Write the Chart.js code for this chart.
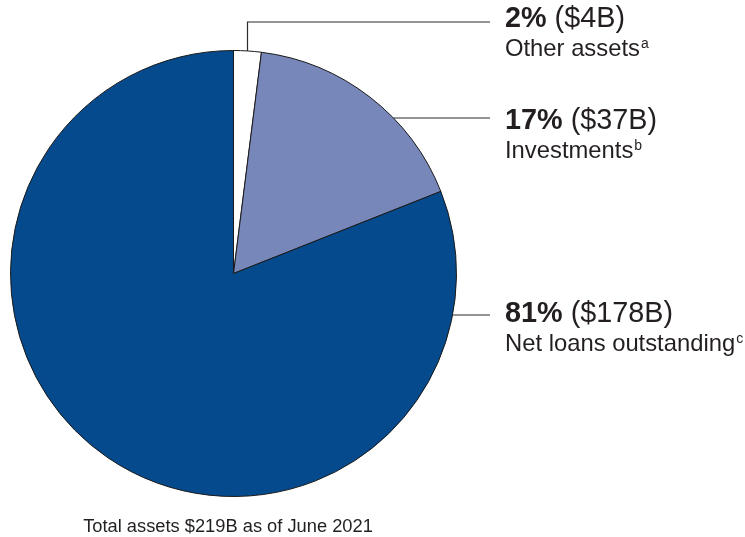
<!DOCTYPE html>
<html>
<head>
<meta charset="utf-8">
<script src="https://cdn.jsdelivr.net/npm/chart.js@4/dist/chart.umd.min.js"></script>
<style>
  body { margin: 0; background: #fff; }
  canvas { display: block; }
</style>
</head>
<body>
<canvas id="assetsChart" width="745" height="537"></canvas>
<script>
// Asset mix, June 2021
const categories = ['Other assets', 'Investments', 'Net loans outstanding'];
const shares = [2, 17, 81];            // percent of total
const amounts = ['$4B', '$37B', '$178B'];
const notes = ['a', 'b', 'c'];
const totalNote = 'Total assets $219B as of June 2021';

const sliceColors = ['#ffffff', '#7887b9', '#054a8c'];
const textColor = '#231f20';

// leader line rows and label baselines (canvas px)
const leaderY = [22, 118, 315];
const labelY = [27, 129, 322];
const labelX = 505;
const lineEnd = 490;

const calloutPlugin = {
    id: 'callouts',
    afterDraw(chart) {
        const ctx = chart.ctx;
        const arcs = chart.getDatasetMeta(0).data;
        ctx.save();
        ctx.strokeStyle = '#2b2b2b';
        ctx.lineWidth = 1.2;
        arcs.forEach((arc, i) => {
            const p = arc.getProps(['x', 'y', 'startAngle', 'endAngle', 'outerRadius'], true);
            ctx.beginPath();
            if (i === 0) {
                // vertical up from middle of the small slice, then across
                const mid = (p.startAngle + p.endAngle) / 2;
                const px = p.x + Math.cos(mid) * p.outerRadius;
                const py = p.y + Math.sin(mid) * p.outerRadius;
                ctx.moveTo(px, py);
                ctx.lineTo(px, leaderY[i]);
                ctx.lineTo(lineEnd, leaderY[i]);
            } else {
                const dy = leaderY[i] - p.y;
                const px = p.x + Math.sqrt(p.outerRadius * p.outerRadius - dy * dy);
                ctx.moveTo(px, leaderY[i]);
                ctx.lineTo(lineEnd, leaderY[i]);
            }
            ctx.stroke();

            // first line: bold share + amount
            ctx.fillStyle = textColor;
            ctx.textBaseline = 'alphabetic';
            ctx.textAlign = 'left';
            ctx.font = 'bold 28.8px "Liberation Sans", Arial, sans-serif';
            const pct = shares[i] + '%';
            ctx.fillText(pct, labelX, labelY[i]);
            const w = ctx.measureText(pct).width;
            ctx.font = '28.8px "Liberation Sans", Arial, sans-serif';
            ctx.fillText(' (' + amounts[i] + ')', labelX + w, labelY[i]);

            // second line: category with footnote letter
            ctx.font = '23.8px "Liberation Sans", Arial, sans-serif';
            const y2 = labelY[i] + 29;
            ctx.fillText(categories[i], labelX, y2);
            const w2 = ctx.measureText(categories[i]).width;
            ctx.font = '14px "Liberation Sans", Arial, sans-serif';
            ctx.fillText(notes[i], labelX + w2 + 1, y2 - 8);
        });

        ctx.font = '18.3px "Liberation Sans", Arial, sans-serif';
        ctx.textAlign = 'center';
        ctx.fillText(totalNote, 228, 532);
        ctx.restore();
    }
};

new Chart(document.getElementById('assetsChart'), {
    type: 'pie',
    data: {
        labels: categories,
        datasets: [{
            data: shares,
            backgroundColor: sliceColors,
            borderColor: '#1a1a1a',
            borderWidth: 1
        }]
    },
    options: {
        responsive: false,
        animation: false,
        layout: {
            padding: { left: 10, right: 288, top: 50, bottom: 40 }
        },
        plugins: {
            legend: { display: false },
            tooltip: { enabled: false }
        }
    },
    plugins: [calloutPlugin]
});
</script>
</body>
</html>
